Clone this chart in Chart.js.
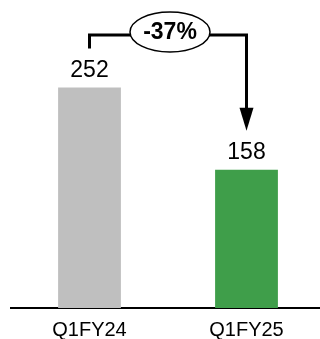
<!DOCTYPE html>
<html>
<head>
<meta charset="utf-8">
<script src="https://cdn.jsdelivr.net/npm/chart.js@4"></script>
<style>
  html, body { margin: 0; padding: 0; background: #fff; overflow: hidden; }
  #wrap { width: 320px; height: 339px; overflow: hidden; }
</style>
</head>
<body>
<div id="wrap"><canvas id="chart" width="325" height="339"></canvas></div>
<script>
const categories = ['Q1FY24', 'Q1FY25'];
const values = [252, 158];
const barColors = ['#BFBFBF', '#3F9E4A'];

const fontFamily = "'Liberation Sans', Arial, sans-serif";

// value labels above bars + the change bracket with ellipse
const overlay = {
  id: 'overlay',
  afterDatasetsDraw(chart) {
    const ctx = chart.ctx;
    const bars = chart.getDatasetMeta(0).data;
    ctx.save();
    ctx.fillStyle = '#000';
    ctx.font = '23px ' + fontFamily;
    ctx.textAlign = 'center';
    ctx.textBaseline = 'alphabetic';
    bars.forEach((b, i) => {
      ctx.fillText(String(values[i]), b.x, b.y - 11);
    });

    const a = bars[0], c = bars[1];
    const topY = 35;
    const leftBottom = a.y - 39;
    const tipY = c.y - 39;
    ctx.strokeStyle = '#000';
    ctx.lineWidth = 3;
    ctx.beginPath();
    ctx.moveTo(a.x, leftBottom);
    ctx.lineTo(a.x, topY);
    ctx.lineTo(c.x, topY);
    ctx.lineTo(c.x, tipY - 20);
    ctx.stroke();
    // arrow head
    ctx.fillStyle = '#000';
    ctx.beginPath();
    ctx.moveTo(c.x - 7, tipY - 23);
    ctx.lineTo(c.x + 7, tipY - 23);
    ctx.lineTo(c.x, tipY);
    ctx.closePath();
    ctx.fill();

    // ellipse with percentage
    const cx = (a.x + c.x) / 2 + 2, cy = 32;
    ctx.beginPath();
    ctx.ellipse(cx, cy, 40, 20, 0, 0, Math.PI * 2);
    ctx.fillStyle = '#fff';
    ctx.fill();
    ctx.lineWidth = 1.5;
    ctx.stroke();
    const pct = Math.round((values[1] - values[0]) / values[0] * 100);
    ctx.fillStyle = '#000';
    ctx.font = 'bold 23px ' + fontFamily;
    ctx.textBaseline = 'middle';
    ctx.fillText(pct + '%', cx, cy + 1);
    ctx.restore();
  }
};

new Chart(document.getElementById('chart'), {
  type: 'bar',
  data: {
    labels: categories,
    datasets: [{
      data: values,
      backgroundColor: barColors,
      barPercentage: 0.4,
      categoryPercentage: 1
    }]
  },
  options: {
    responsive: false,
    animation: false,
    layout: { padding: { left: 11, right: 0, top: 0, bottom: 0 } },
    plugins: { legend: { display: false }, tooltip: { enabled: false } },
    scales: {
      x: {
        grid: { display: false },
        border: { display: true, color: '#000', width: 2 },
        ticks: { color: '#000', padding: 2, font: { family: fontFamily, size: 20 } },
        afterFit(scale) { scale.height = 31; }
      },
      y: {
        display: false,
        min: 0,
        max: 352
      }
    }
  },
  plugins: [overlay]
});
</script>
</body>
</html>
